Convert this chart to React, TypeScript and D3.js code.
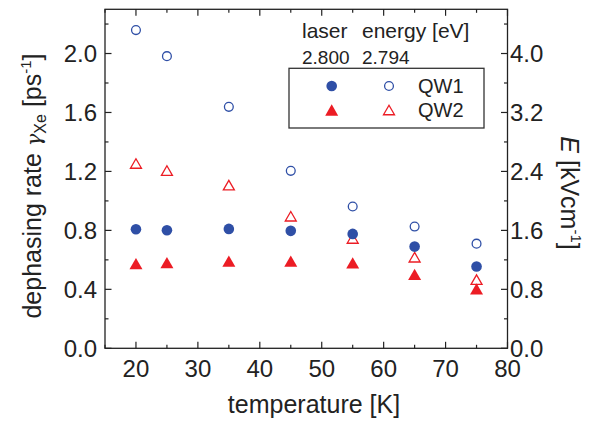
import React from 'react';
import * as d3 from 'd3';

const temperatures = [20, 25, 35, 45, 55, 65, 75];
const qw1Filled = [0.808, 0.801, 0.81, 0.797, 0.776, 0.69, 0.555];
const qw1Open = [2.159, 1.982, 1.638, 1.204, 0.962, 0.826, 0.71];
const qw2Filled = [0.575, 0.582, 0.591, 0.591, 0.579, 0.502, 0.403];
const qw2Open = [1.254, 1.206, 1.107, 0.896, 0.745, 0.618, 0.466];

const xTicks = [20, 30, 40, 50, 60, 70, 80];
const xMinor = [15, 25, 35, 45, 55, 65, 75];
const yTicks = [0, 0.4, 0.8, 1.2, 1.6, 2.0];
const yMinor = [0.2, 0.6, 1.0, 1.4, 1.8, 2.2];
const eTicks = [0, 0.8, 1.6, 2.4, 3.2, 4.0];

const BLUE = '#2f4fa6';
const RED = '#ec1c24';
const FONT = 'Liberation Sans, Arial, Helvetica, sans-serif';

const L = 105, R = 507.5, T = 9.3, B = 348.3;

export default function App() {
  const x = d3.scaleLinear().domain([15, 80]).range([L, R]);
  const y = d3.scaleLinear().domain([0, 2.3]).range([B, T]);
  const e = d3.scaleLinear().domain([0, 4.6]).range([B, T]);

  const tri = (cx: number, cy: number, s: number) => {
    const h = (s * Math.sqrt(3)) / 2;
    return `M${cx},${cy - h / 2}L${cx + s / 2},${cy + h / 2}L${cx - s / 2},${cy + h / 2}Z`;
  };

  const axisColor = '#222';
  const majorLen = 6.5;
  const minorLen = 3.5;

  return (
    <svg width={601} height={424} style={{ position: 'absolute', left: 0, top: 0, background: '#fff' }} fontFamily={FONT}>
      {/* frame */}
      <rect x={L} y={T} width={R - L} height={B - T} fill="none" stroke={axisColor} strokeWidth={1.3} />
      {/* x ticks bottom & top */}
      {xTicks.map((t) => (
        <g key={'xt' + t}>
          <line x1={x(t)} x2={x(t)} y1={B} y2={B - majorLen} stroke={axisColor} strokeWidth={1.2} />
          <line x1={x(t)} x2={x(t)} y1={T} y2={T + majorLen} stroke={axisColor} strokeWidth={1.2} />
          <text x={x(t)} y={376.7} textAnchor="middle" fontSize={24} fill="#222">{t}</text>
        </g>
      ))}
      {xMinor.map((t) => (
        <g key={'xm' + t}>
          <line x1={x(t)} x2={x(t)} y1={B} y2={B - minorLen} stroke={axisColor} strokeWidth={1.2} />
          <line x1={x(t)} x2={x(t)} y1={T} y2={T + minorLen} stroke={axisColor} strokeWidth={1.2} />
        </g>
      ))}
      {/* y ticks left & right */}
      {yTicks.map((t) => (
        <g key={'yt' + t}>
          <line x1={L} x2={L + majorLen} y1={y(t)} y2={y(t)} stroke={axisColor} strokeWidth={1.2} />
          <line x1={R} x2={R - majorLen} y1={y(t)} y2={y(t)} stroke={axisColor} strokeWidth={1.2} />
          <text x={97} y={y(t)} dy="0.35em" textAnchor="end" fontSize={24} fill="#222">{t.toFixed(1)}</text>
        </g>
      ))}
      {yMinor.map((t) => (
        <g key={'ym' + t}>
          <line x1={L} x2={L + minorLen} y1={y(t)} y2={y(t)} stroke={axisColor} strokeWidth={1.2} />
          <line x1={R} x2={R - minorLen} y1={y(t)} y2={y(t)} stroke={axisColor} strokeWidth={1.2} />
        </g>
      ))}
      {eTicks.map((t) => (
        <text key={'et' + t} x={510} y={e(t)} dy="0.35em" textAnchor="start" fontSize={24} fill="#222">{t.toFixed(1)}</text>
      ))}

      {/* axis titles */}
      <text x={314} y={413} textAnchor="middle" fontSize={25} fill="#222">temperature [K]</text>
      <text transform="translate(41,186) rotate(-90)" textAnchor="middle" fontSize={25} fill="#222">
        dephasing rate <tspan fontFamily="DejaVu Serif, serif" fontStyle="italic" fontSize={21}>γ</tspan>
        <tspan fontSize={16} dy={5}>Xe</tspan>
        <tspan dy={-5}> [ps</tspan>
        <tspan fontSize={15} dy={-10}>-1</tspan>
        <tspan dy={10}>]</tspan>
      </text>
      <text transform="translate(561,193) rotate(90)" textAnchor="middle" fontSize={25} fill="#222">
        <tspan fontStyle="italic">E</tspan> [kVcm
        <tspan fontSize={15} dy={-10}>-1</tspan>
        <tspan dy={10}>]</tspan>
      </text>

      {/* legend */}
      <text x={302} y={38.3} fontSize={21} fill="#222">laser</text>
      <text x={362} y={38.3} fontSize={21} fill="#222">energy [eV]</text>
      <text x={302} y={64} fontSize={19} fill="#222">2.800</text>
      <text x={362} y={64} fontSize={19} fill="#222">2.794</text>
      <rect x={289} y={68.3} width={195} height={59.7} fill="none" stroke="#333" strokeWidth={1.3} />
      <circle cx={331.7} cy={86} r={5.3} fill={BLUE} />
      <circle cx={389} cy={86} r={4.4} fill="none" stroke={BLUE} strokeWidth={1.3} />
      <path d={tri(331.7, 110, 13)} fill={RED} />
      <path d={tri(389, 110, 11)} fill="none" stroke={RED} strokeWidth={1.3} />
      <text x={418} y={93.3} fontSize={20} fill="#222">QW1</text>
      <text x={418} y={117} fontSize={20} fill="#222">QW2</text>

      {/* data */}
      {temperatures.map((t, i) => (
        <g key={'d' + t}>
          <circle cx={x(t)} cy={y(qw1Open[i])} r={4.4} fill="none" stroke={BLUE} strokeWidth={1.3} />
          <path d={tri(x(t), y(qw2Open[i]), 11)} fill="none" stroke={RED} strokeWidth={1.3} />
          <path d={tri(x(t), y(qw2Filled[i]), 13)} fill={RED} />
          <circle cx={x(t)} cy={y(qw1Filled[i])} r={5.3} fill={BLUE} />
        </g>
      ))}
    </svg>
  );
}
